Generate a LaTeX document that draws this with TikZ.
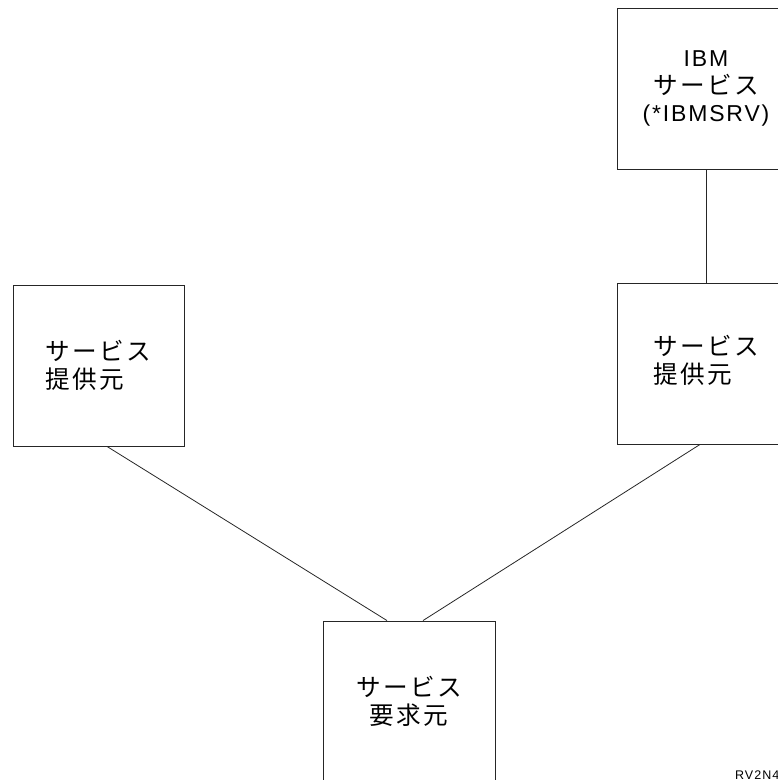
\documentclass[tikz,border=0pt]{standalone}
\usepackage{fontspec}
\setmainfont{Liberation Sans}[LetterSpace=8]
\newfontfamily\jp{Noto Sans CJK JP}[LetterSpace=10,Scale=1.07]
\begin{document}
\begin{tikzpicture}[x=1pt,y=-1pt,
  box/.style={draw=black!85, line width=0.9pt, inner sep=0pt,
    font=\fontsize{23}{27.5}\selectfont},
  link/.style={draw=black!85, line width=0.8pt}]
\useasboundingbox (0,0) rectangle (778,780);
\clip (0,0) rectangle (778,780);
\node[box, minimum width=178, minimum height=161, align=center] (ibm) at (706,88.5)
  {IBM\\{\jp サービス}\\(*IBMSRV)};
\node[box, minimum width=178, minimum height=161, align=left] (prov2) at (706,363.5)
  {\raisebox{6pt}{\jp\begin{tabular}{@{}l@{}}サービス\\提供元\end{tabular}}};
\node[box, minimum width=171, minimum height=161, align=left] (prov1) at (98.5,365.5)
  {\jp サービス\\\jp 提供元};
\node[box, minimum width=172, minimum height=161, align=center] (req) at (409,701.5)
  {\jp サービス\\\jp 要求元};
\node[anchor=north west, inner sep=0pt, font=\fontsize{12.5}{14}\selectfont] (fig) at (735,771) {RV2N4};
\draw[link] ([yshift=-1]ibm.south) -- (prov2.north);
\draw[link] ([xshift=8.5]prov1.south) -- ([xshift=-22]req.north);
\draw[link] ([xshift=-6]prov2.south) -- ([xshift=14]req.north);
\end{tikzpicture}
\end{document}
